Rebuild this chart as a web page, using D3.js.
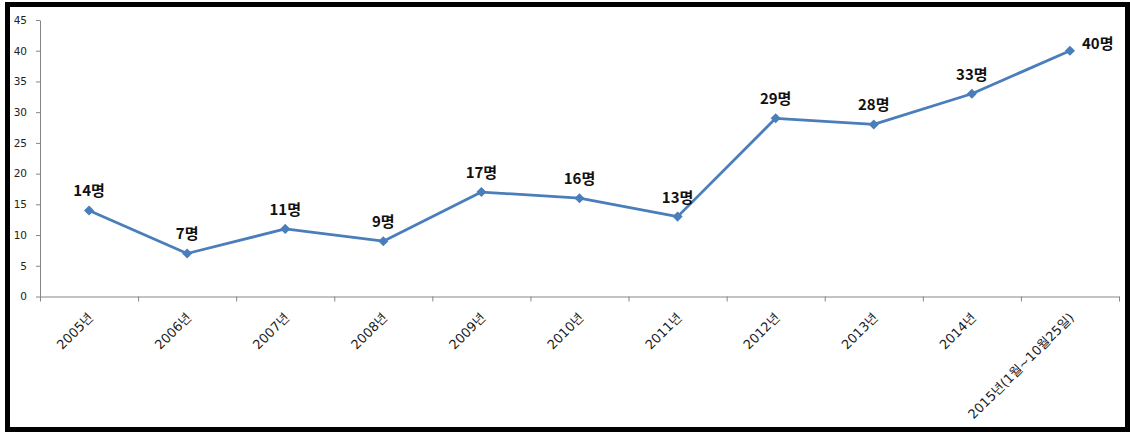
<!DOCTYPE html>
<html>
<head>
<meta charset="utf-8">
<script src="https://cdn.jsdelivr.net/npm/d3@7"></script>
<style>
  body { margin: 0; background: #fff; }
  svg { display: block; }
</style>
</head>
<body>
<svg id="chart"></svg>
<script>
var categories = ["2005년", "2006년", "2007년", "2008년", "2009년", "2010년", "2011년",
                  "2012년", "2013년", "2014년", "2015년(1월~10월25일)"];
var counts = [14, 7, 11, 9, 17, 16, 13, 29, 28, 33, 40];
var yTicks = [0, 5, 10, 15, 20, 25, 30, 35, 40, 45];

var width = 1130,
    height = 432;

var lineColor = "#4A7EBB";
var axisColor = "#868686";

var svg = d3.select("#chart")
  .attr("width", width)
  .attr("height", height);

// outer frame
svg.append("rect")
  .attr("x", 7.5).attr("y", 4.5)
  .attr("width", 1120).attr("height", 425)
  .attr("fill", "#fff")
  .attr("stroke", "#000")
  .attr("stroke-width", 5);

var plotLeft = 40, plotRight = 1119, plotTop = 20, plotBottom = 296.5;

var x = d3.scaleBand()
  .domain(categories)
  .range([plotLeft, plotRight])
  .padding(0);

// boundaries between categories (where excel puts its ticks)
var xEdge = d3.scaleLinear()
  .domain([0, categories.length])
  .range([plotLeft, plotRight]);

var y = d3.scaleLinear()
  .domain([0, 45])
  .range([plotBottom, plotTop]);

// y axis
var yAxis = svg.append("g")
  .attr("transform", "translate(" + plotLeft + ",0)")
  .call(d3.axisLeft(y).tickValues(yTicks).tickSize(4).tickSizeOuter(0).tickPadding(9));
yAxis.select(".domain").attr("stroke", axisColor);
yAxis.selectAll(".tick line").attr("stroke", axisColor);
yAxis.selectAll("text")
  .attr("fill", "#222")
  .style("font-family", "'DejaVu Sans', sans-serif")
  .style("font-size", "10.5px");

// x axis line + boundary ticks
var xAxis = svg.append("g")
  .attr("transform", "translate(0," + plotBottom + ")")
  .call(d3.axisBottom(xEdge)
    .tickValues(d3.range(categories.length + 1))
    .tickFormat("")
    .tickSize(5)
    .tickSizeOuter(0));
xAxis.select(".domain").attr("stroke", axisColor);
xAxis.selectAll(".tick line").attr("stroke", axisColor);

// x category labels, rotated
var xLabels = svg.append("g")
  .attr("transform", "translate(0," + plotBottom + ")")
  .call(d3.axisBottom(x).tickSize(0).tickPadding(0));
xLabels.select(".domain").remove();
xLabels.selectAll("text")
  .attr("text-anchor", "end")
  .attr("fill", "#1a1a1a")
  .style("font-family", "'DejaVu Sans', 'Noto Sans CJK KR', sans-serif")
  .style("font-size", "13px")
  .attr("dy", null)
  .attr("y", 0)
  .attr("transform", "translate(5,22) rotate(-45)");

// line
var line = d3.line()
  .x(function(d, i) { return x(categories[i]) + x.bandwidth() / 2; })
  .y(function(d) { return y(d); });

svg.append("path")
  .datum(counts)
  .attr("d", line)
  .attr("fill", "none")
  .attr("stroke", lineColor)
  .attr("stroke-width", 2.8)
  .attr("stroke-linejoin", "round");

// diamond markers
svg.selectAll(".marker")
  .data(counts)
  .enter()
  .append("path")
  .attr("class", "marker")
  .attr("d", d3.symbol().type(d3.symbolDiamond2).size(65))
  .attr("transform", function(d, i) {
    return "translate(" + (x(categories[i]) + x.bandwidth() / 2) + "," + y(d) + ")";
  })
  .attr("fill", lineColor);

// data labels
svg.selectAll(".dlabel")
  .data(counts)
  .enter()
  .append("text")
  .attr("class", "dlabel")
  .attr("x", function(d, i) {
    var cx = x(categories[i]) + x.bandwidth() / 2;
    return i === counts.length - 1 ? cx + 12 : cx;
  })
  .attr("y", function(d, i) {
    return i === counts.length - 1 ? y(d) - 2 : y(d) - 14;
  })
  .attr("text-anchor", function(d, i) { return i === counts.length - 1 ? "start" : "middle"; })
  .attr("fill", "#111")
  .style("font-family", "'Noto Sans CJK KR', sans-serif")
  .style("font-weight", "bold")
  .style("font-size", "15px")
  .text(function(d) { return d + "명"; });
</script>
</body>
</html>
